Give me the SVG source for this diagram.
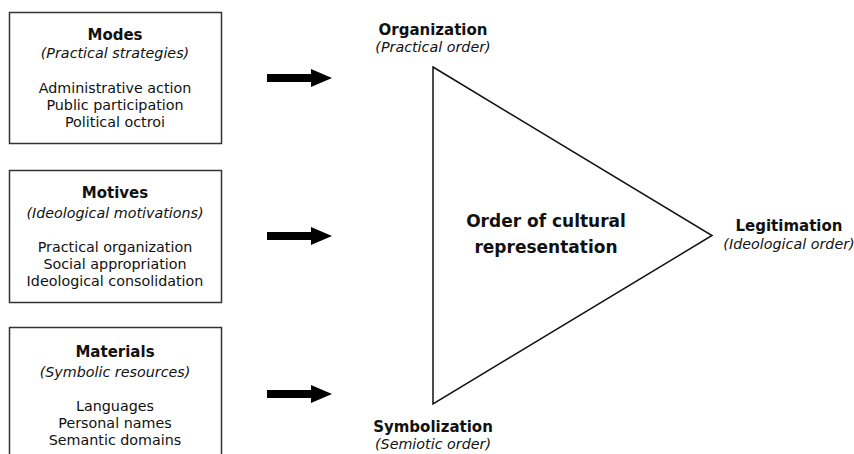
<svg xmlns="http://www.w3.org/2000/svg" width="854" height="454" viewBox="0 0 854 454">
<defs>
<style>
text{font-family:"DejaVu Sans","Noto Sans",sans-serif;fill:#111;text-anchor:middle}
.t{font-size:15px;font-weight:bold}
.s{font-size:14.3px;font-style:italic}
.l{font-size:14.3px}
.c{font-size:17px;font-weight:bold}
.box{fill:#fff;stroke:#333;stroke-width:1.5}
.arr{fill:#000}
</style>
</defs>
<rect width="854" height="454" fill="#fff"/>
<g id="modes">
<rect class="box" x="9.5" y="12.5" width="212" height="131"/>
<text class="t" x="115" y="40">Modes</text>
<text class="s" x="115" y="58">(Practical strategies)</text>
<text class="l" x="115" y="93">Administrative action</text>
<text class="l" x="115" y="110">Public participation</text>
<text class="l" x="115" y="127">Political octroi</text>
</g>
<g id="motives">
<rect class="box" x="9.5" y="170.5" width="212" height="132"/>
<text class="t" x="115" y="198">Motives</text>
<text class="s" x="115" y="218">(Ideological motivations)</text>
<text class="l" x="115" y="252">Practical organization</text>
<text class="l" x="115" y="269">Social appropriation</text>
<text class="l" x="115" y="286">Ideological consolidation</text>
</g>
<g id="materials">
<rect class="box" x="9.5" y="327.5" width="212" height="140"/>
<text class="t" x="115" y="357">Materials</text>
<text class="s" x="115" y="377">(Symbolic resources)</text>
<text class="l" x="115" y="411">Languages</text>
<text class="l" x="115" y="428">Personal names</text>
<text class="l" x="115" y="445">Semantic domains</text>
</g>
<g id="connectors">
<polygon class="arr" points="267,74 311,74 311,69 332,78 311,87 311,82 267,82"/>
<polygon class="arr" points="267,232 311,232 311,227 332,236 311,245 311,240 267,240"/>
<polygon class="arr" points="267,390 311,390 311,385 332,394 311,403 311,398 267,398"/>
</g>
<g id="triangle">
<polygon points="433,67 712,235.5 433,404" fill="none" stroke="#111" stroke-width="1.5"/>
<text class="c" x="546" y="227">Order of cultural</text>
<text class="c" x="546" y="253">representation</text>
</g>
<g id="organization">
<text class="t" x="433" y="35">Organization</text>
<text class="s" x="433" y="52">(Practical order)</text>
</g>
<g id="legitimation">
<text class="t" x="789" y="231">Legitimation</text>
<text class="s" x="789" y="249">(Ideological order)</text>
</g>
<g id="symbolization">
<text class="t" x="433" y="432">Symbolization</text>
<text class="s" x="433" y="449">(Semiotic order)</text>
</g>
</svg>
